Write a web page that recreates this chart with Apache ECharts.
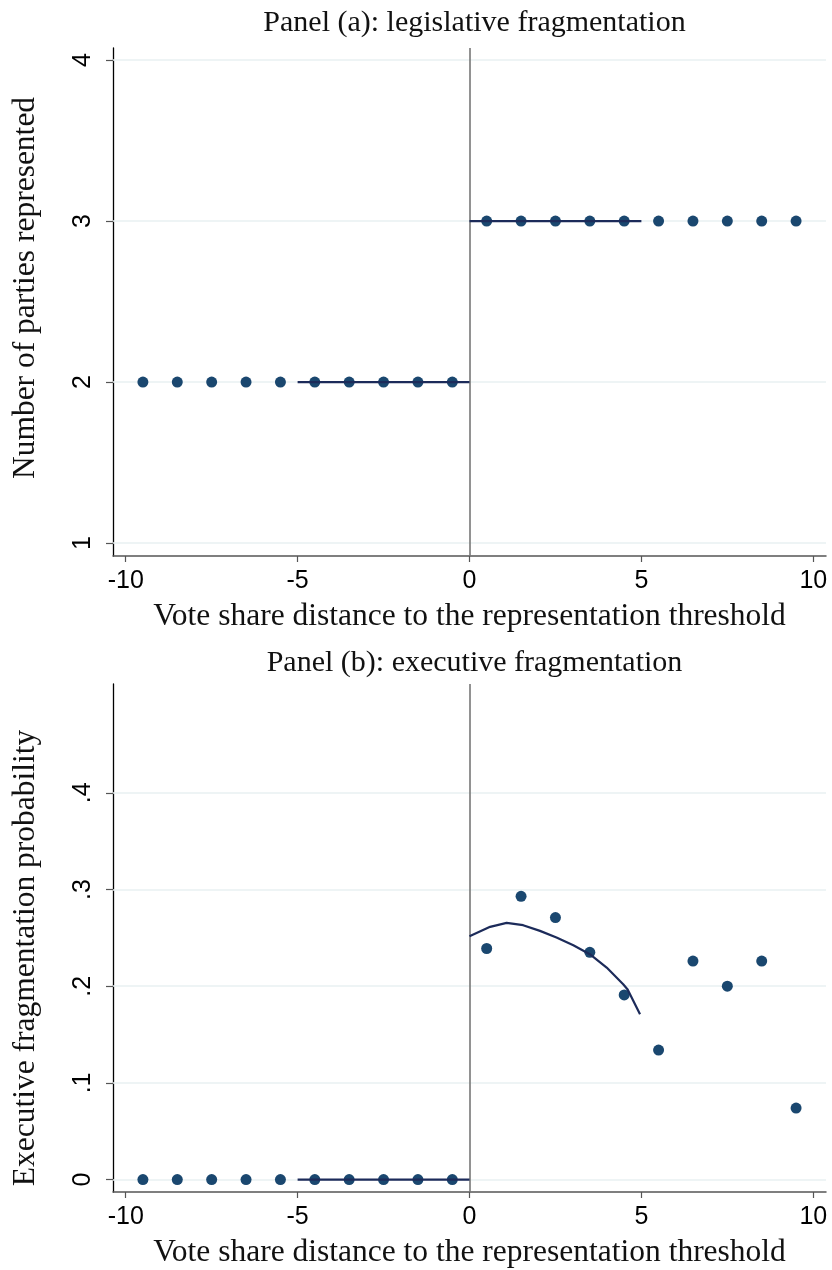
<!DOCTYPE html>
<html><head><meta charset="utf-8">
<script src="https://cdn.jsdelivr.net/npm/echarts@6/dist/echarts.min.js"></script>
<style>html,body{margin:0;padding:0;background:#fff}#c{width:832px;height:1270px}</style>
</head><body><div id="c"></div>
<script>
const xBins = [-9.5,-8.5,-7.5,-6.5,-5.5,-4.5,-3.5,-2.5,-1.5,-0.5,0.5,1.5,2.5,3.5,4.5,5.5,6.5,7.5,8.5,9.5];
const legisMeans = [2,2,2,2,2,2,2,2,2,2,3,3,3,3,3,3,3,3,3,3];
const execMeans = [0,0,0,0,0,0,0,0,0,0,0.239,0.293,0.271,0.235,0.191,0.134,0.226,0.200,0.226,0.074];
const legisFitLeftX = [-5, 0];
const legisFitLeftY = [2, 2];
const legisFitRightX = [0, 5];
const legisFitRightY = [3, 3];
const execFitLeftX = [-5, 0];
const execFitLeftY = [0, 0];
const execFitRightX = [0, 0.6, 1.08, 1.56, 2.05, 2.53, 3.02, 3.5, 3.99, 4.47, 4.6, 4.96];
const execFitRightY = [0.2517, 0.2614, 0.2655, 0.2631, 0.2572, 0.2504, 0.2424, 0.2331, 0.2193, 0.2021, 0.1966, 0.171];
const xTicks = [-10, -5, 0, 5, 10];
const legisTicks = [1, 2, 3, 4];
const execTicks = [0, 0.1, 0.2, 0.3, 0.4];
const titles = ['Panel (a): legislative fragmentation', 'Panel (b): executive fragmentation'];
const xName = 'Vote share distance to the representation threshold';
const yNames = ['Number of parties represented', 'Executive fragmentation probability'];

const zip = (a, b) => a.map((v, i) => [v, b[i]]);
const SERIF = 'Liberation Serif';
const SANS = 'Liberation Sans';
const MARK = '#1a476f';
const LINE = '#1c2b5a';
const TITLE_SIZE = 30;
const NAME_SIZE = 31.5;

function xAxisCfg(gi) {
  return {
    gridIndex: gi, type: 'value', min: -10.37, max: 10.37,
    name: xName, nameLocation: 'middle', nameGap: 45,
    nameTextStyle: {fontFamily: SERIF, fontSize: NAME_SIZE, color: '#111'},
    axisLine: {show: true, onZero: false, lineStyle: {color: '#555', width: 1.5}},
    axisTick: {show: true, length: 6, customValues: xTicks, lineStyle: {color: '#555', width: 1.2}},
    axisLabel: {customValues: xTicks, fontFamily: SANS, fontSize: 25, color: '#000', margin: 13},
    splitLine: {show: false}
  };
}
function yAxisCfg(gi, min, max, ticks, fmt, name, pad) {
  return {
    gridIndex: gi, type: 'value', min: min, max: max,
    name: name, nameLocation: 'middle', nameGap: 71, nameRotate: 90,
    nameTextStyle: {fontFamily: SERIF, fontSize: NAME_SIZE, color: '#111', padding: pad},
    axisLine: {show: true, onZero: false, lineStyle: {color: '#000', width: 1.3}},
    axisTick: {show: true, length: 7, customValues: ticks, lineStyle: {color: '#555', width: 1.2}},
    axisLabel: {customValues: ticks, rotate: 90, fontFamily: SANS, fontSize: 25, color: '#000', margin: 17, formatter: fmt},
    splitLine: {show: false}
  };
}
function gridLines(xi, ticks) {
  return {
    type: 'line', xAxisIndex: xi, yAxisIndex: xi, data: [], z: 1, silent: true,
    markLine: {
      z: 1, silent: true, symbol: ['none', 'none'], label: {show: false},
      lineStyle: {color: '#e8f0f2', width: 1.6, type: 'solid'},
      data: ticks.map(t => ({yAxis: t}))
    }
  };
}
function zeroLine(xi) {
  return {
    type: 'line', xAxisIndex: xi, yAxisIndex: xi, data: [], z: 2, silent: true,
    markLine: {
      z: 2, silent: true, symbol: ['none', 'none'], label: {show: false},
      lineStyle: {color: '#777', width: 1.6, type: 'solid'},
      data: [{xAxis: 0}]
    }
  };
}
function scatter(xi, ys) {
  return {type: 'scatter', xAxisIndex: xi, yAxisIndex: xi, data: zip(xBins, ys), symbolSize: 11,
    itemStyle: {color: MARK, opacity: 1}, z: 3};
}
function fit(xi, xs, ys) {
  return {type: 'line', xAxisIndex: xi, yAxisIndex: xi, data: zip(xs, ys), showSymbol: false, symbol: 'none',
    smooth: false, lineStyle: {color: LINE, width: 2.2}, z: 4};
}

const chart = echarts.init(document.getElementById('c'), null, {renderer: 'canvas'});
chart.setOption({
  animation: false,
  backgroundColor: '#fff',
  title: [
    {text: titles[0], left: 469.5, textAlign: 'center', top: 3, textStyle: {fontFamily: SERIF, fontSize: TITLE_SIZE, fontWeight: 'normal', color: '#111'}},
    {text: titles[1], left: 469.5, textAlign: 'center', top: 643, textStyle: {fontFamily: SERIF, fontSize: TITLE_SIZE, fontWeight: 'normal', color: '#111'}}
  ],
  grid: [
    {left: 113, right: 6, top: 48, height: 508},
    {left: 113, right: 6, top: 684, height: 508}
  ],
  xAxis: [xAxisCfg(0), xAxisCfg(1)],
  yAxis: [
    yAxisCfg(0, 0.92, 4.075, legisTicks, v => String(v), yNames[0], [0, 0, 0, 28]),
    yAxisCfg(1, -0.0128, 0.5125, execTicks, v => (v === 0 ? '0' : String(+v.toFixed(1)).replace(/^0/, '')), yNames[1], [0, 40, 0, 0])
  ],
  series: [
    gridLines(0, legisTicks), zeroLine(0), scatter(0, legisMeans),
    fit(0, legisFitLeftX, legisFitLeftY), fit(0, legisFitRightX, legisFitRightY),
    gridLines(1, execTicks), zeroLine(1), scatter(1, execMeans),
    fit(1, execFitLeftX, execFitLeftY), fit(1, execFitRightX, execFitRightY)
  ]
});
</script></body></html>
